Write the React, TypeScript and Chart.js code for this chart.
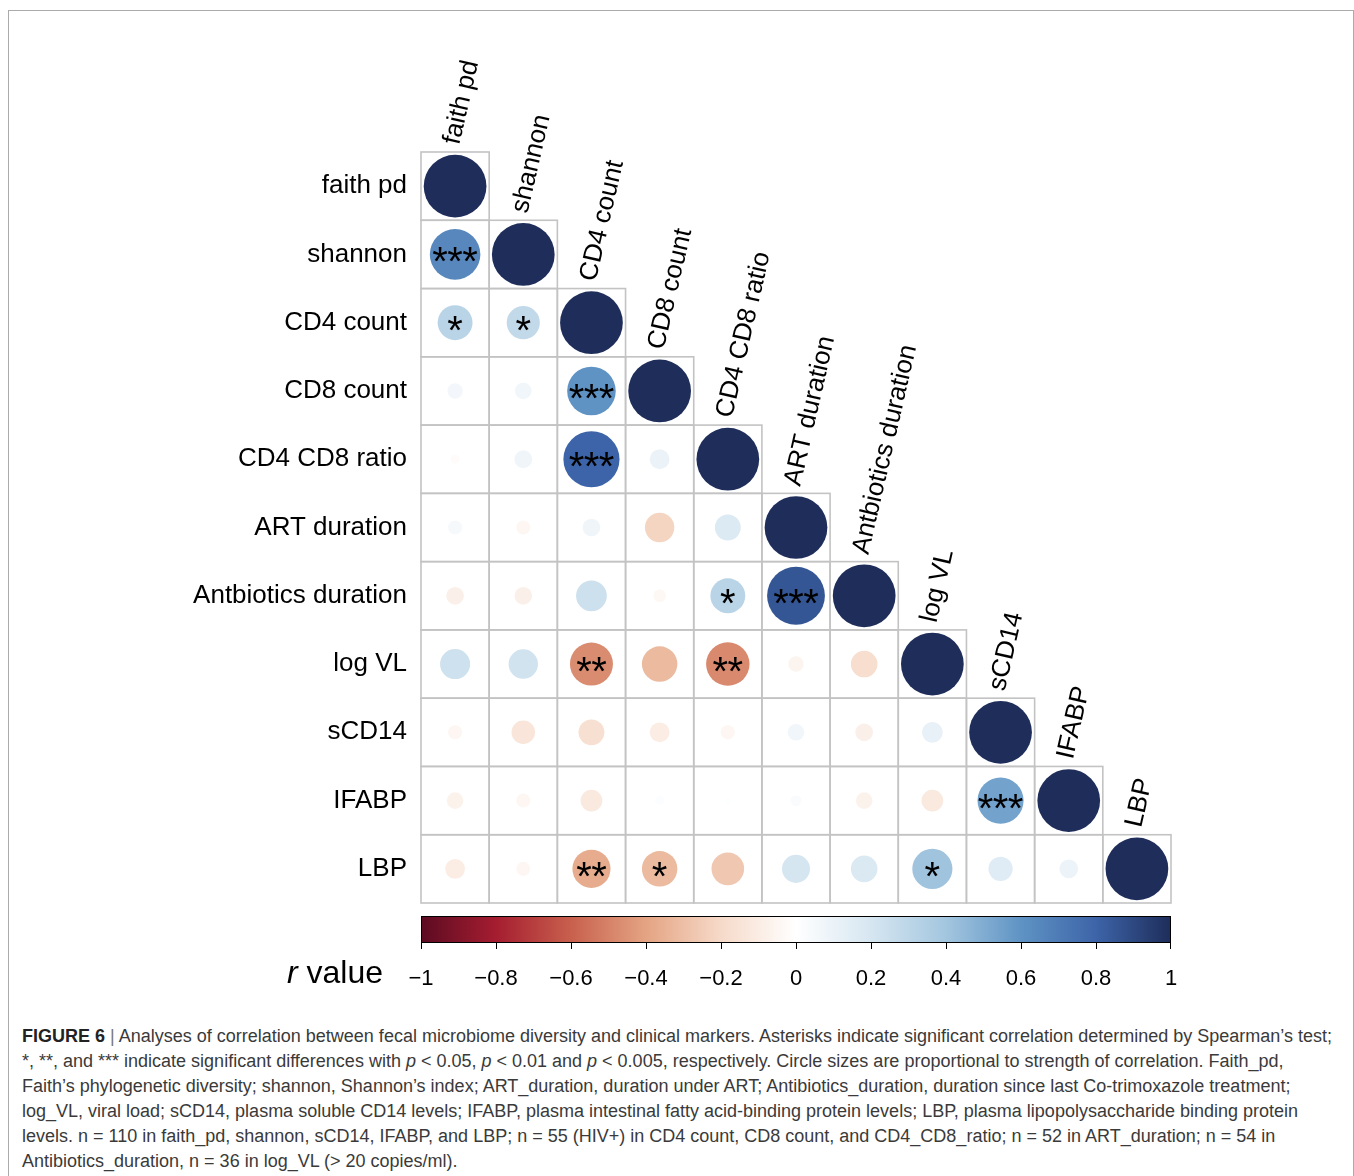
import React, { useEffect, useRef } from "react";
import { Chart, registerables } from "chart.js";

Chart.register(...registerables);

const varLabels = [
  "faith pd",
  "shannon",
  "CD4 count",
  "CD8 count",
  "CD4 CD8 ratio",
  "ART duration",
  "Antbiotics duration",
  "log VL",
  "sCD14",
  "IFABP",
  "LBP",
];

// lower-triangle correlation rows (r values)
const rowFaithPd = [1];
const rowShannon = [0.65, 1];
const rowCD4 = [0.31, 0.28, 1];
const rowCD8 = [0.06, 0.07, 0.6, 1];
const rowRatio = [-0.02, 0.08, 0.8, 0.1, 1];
const rowART = [0.05, -0.05, 0.08, -0.22, 0.17, 1];
const rowAntb = [-0.08, -0.08, 0.24, -0.04, 0.31, 0.85, 1];
const rowLogVL = [0.23, 0.22, -0.47, -0.32, -0.48, -0.06, -0.18, 1];
const rowSCD14 = [-0.05, -0.14, -0.17, -0.1, -0.05, 0.07, -0.08, 0.11, 1];
const rowIFABP = [-0.07, -0.05, -0.12, 0.02, 0.01, 0.03, -0.07, -0.12, 0.54, 1];
const rowLBP = [-0.1, -0.05, -0.37, -0.32, -0.27, 0.2, 0.18, 0.41, 0.15, 0.09, 1];

// significance marks per row
const sigFaithPd = [""];
const sigShannon = ["***", ""];
const sigCD4 = ["*", "*", ""];
const sigCD8 = ["", "", "***", ""];
const sigRatio = ["", "", "***", "", ""];
const sigART = ["", "", "", "", "", ""];
const sigAntb = ["", "", "", "", "*", "***", ""];
const sigLogVL = ["", "", "**", "", "**", "", "", ""];
const sigSCD14 = ["", "", "", "", "", "", "", "", ""];
const sigIFABP = ["", "", "", "", "", "", "", "", "***", ""];
const sigLBP = ["", "", "**", "*", "", "", "", "*", "", "", ""];

const corrRows = [rowFaithPd, rowShannon, rowCD4, rowCD8, rowRatio, rowART, rowAntb, rowLogVL, rowSCD14, rowIFABP, rowLBP];
const sigRows = [sigFaithPd, sigShannon, sigCD4, sigCD8, sigRatio, sigART, sigAntb, sigLogVL, sigSCD14, sigIFABP, sigLBP];

const colorbarTicks = [-1, -0.8, -0.6, -0.4, -0.2, 0, 0.2, 0.4, 0.6, 0.8, 1];
const colorStops = [
  "#5c0b22", "#a51d30", "#c8604d", "#e4a483", "#f6dac9", "#ffffff",
  "#d6e6f1", "#a3c6df", "#5f93c4", "#3d64a8", "#1e2d5a",
];

function hexToRgb(h: string) {
  const n = parseInt(h.slice(1), 16);
  return [(n >> 16) & 255, (n >> 8) & 255, n & 255];
}

function colorFor(v: number) {
  const t = (Math.max(-1, Math.min(1, v)) + 1) / 2 * (colorStops.length - 1);
  const i = Math.min(colorStops.length - 2, Math.floor(t));
  const f = t - i;
  const a = hexToRgb(colorStops[i]);
  const b = hexToRgb(colorStops[i + 1]);
  const c = a.map((x, k) => Math.round(x + (b[k] - x) * f));
  return `rgb(${c[0]},${c[1]},${c[2]})`;
}

function fmtTick(v: number) {
  if (v === 0) return "0";
  const s = Math.abs(v) === 1 ? "1" : Math.abs(v).toFixed(1);
  return v < 0 ? "\u2212" + s : s;
}

const FONT = '"Liberation Sans", Arial, Helvetica, sans-serif';

const corrPlugin = {
  id: "corrDecor",
  beforeDatasetsDraw(chart: any) {
    const { ctx, chartArea } = chart;
    const xs = chart.scales.x;
    const ys = chart.scales.y;
    const n = varLabels.length;
    const cw = (chartArea.right - chartArea.left) / n;
    const ch = (chartArea.bottom - chartArea.top) / n;
    ctx.save();
    ctx.strokeStyle = "#c3c3c3";
    ctx.lineWidth = 1.6;
    for (let i = 0; i < n; i++) {
      for (let j = 0; j <= i; j++) {
        const cx = xs.getPixelForValue(j);
        const cy = ys.getPixelForValue(i);
        ctx.strokeRect(cx - cw / 2, cy - ch / 2, cw, ch);
      }
    }
    ctx.restore();
  },
  afterDatasetsDraw(chart: any) {
    const { ctx, chartArea } = chart;
    const xs = chart.scales.x;
    const ys = chart.scales.y;
    const n = varLabels.length;
    const ch = (chartArea.bottom - chartArea.top) / n;
    ctx.save();
    // asterisks
    ctx.fillStyle = "#000";
    ctx.font = `40px ${FONT}`;
    ctx.textAlign = "center";
    ctx.textBaseline = "alphabetic";
    const step = 15;
    sigRows.forEach((row, i) => {
      row.forEach((s, j) => {
        if (!s) return;
        const cx = xs.getPixelForValue(j);
        const cy = ys.getPixelForValue(i);
        for (let k = 0; k < s.length; k++) {
          ctx.fillText(s[k], cx + (k - (s.length - 1) / 2) * step, cy + 21);
        }
      });
    });
    // row labels
    ctx.font = `26px ${FONT}`;
    ctx.textAlign = "right";
    ctx.textBaseline = "middle";
    varLabels.forEach((lab, i) => {
      ctx.fillText(lab, chartArea.left - 14, ys.getPixelForValue(i));
    });
    // column labels
    ctx.textAlign = "left";
    varLabels.forEach((lab, j) => {
      const x = xs.getPixelForValue(j);
      const top = ys.getPixelForValue(j) - ch / 2;
      ctx.save();
      ctx.translate(x - 3, top - 8);
      ctx.rotate((-77 * Math.PI) / 180);
      ctx.fillText(lab, 0, 0);
      ctx.restore();
    });
    // colorbar
    const L = chartArea.left;
    const R = chartArea.right;
    const T = chartArea.bottom + 13;
    const B = chartArea.bottom + 40;
    const grad = ctx.createLinearGradient(L, 0, R, 0);
    colorStops.forEach((c, k) => grad.addColorStop(k / (colorStops.length - 1), c));
    ctx.fillStyle = grad;
    ctx.fillRect(L, T, R - L, B - T);
    ctx.strokeStyle = "#000";
    ctx.lineWidth = 1;
    ctx.strokeRect(L + 0.5, T + 0.5, R - L - 1, B - T - 1);
    ctx.fillStyle = "#000";
    ctx.font = `22px ${FONT}`;
    ctx.textAlign = "center";
    ctx.textBaseline = "middle";
    colorbarTicks.forEach((t) => {
      const x = L + ((t + 1) / 2) * (R - L);
      const xx = Math.round(x) + 0.5;
      ctx.beginPath();
      ctx.moveTo(Math.min(xx, R - 0.5), B);
      ctx.lineTo(Math.min(xx, R - 0.5), B + 6);
      ctx.stroke();
      ctx.fillText(fmtTick(t), x, B + 36);
    });
    // r value
    ctx.textAlign = "left";
    ctx.textBaseline = "middle";
    ctx.font = `italic 32px ${FONT}`;
    const rW = ctx.measureText("r").width;
    ctx.font = `32px ${FONT}`;
    const vW = ctx.measureText(" value").width;
    const startX = L - 38 - (rW + vW);
    ctx.font = `italic 32px ${FONT}`;
    ctx.fillText("r", startX, B + 31);
    ctx.font = `32px ${FONT}`;
    ctx.fillText(" value", startX + rW, B + 31);
    ctx.restore();
  },
};

export default function App() {
  const ref = useRef<HTMLCanvasElement | null>(null);

  useEffect(() => {
    if (!ref.current) return;
    const points: any[] = [];
    corrRows.forEach((row, i) => {
      row.forEach((v, j) => points.push({ x: j, y: i, v }));
    });
    const radius = (c: any) => {
      const a = c.chart.chartArea;
      if (!a || !c.raw) return 0;
      const cell = (a.right - a.left) / varLabels.length;
      return 0.46 * cell * Math.sqrt(Math.abs(c.raw.v));
    };
    const chart = new Chart(ref.current, {
      type: "scatter",
      data: {
        datasets: [
          {
            data: points,
            pointRadius: radius,
            pointHoverRadius: radius,
            pointBackgroundColor: (c: any) => (c.raw ? colorFor(c.raw.v) : "#fff"),
            pointBorderWidth: 0,
            pointHoverBorderWidth: 0,
            clip: false,
          } as any,
        ],
      },
      options: {
        animation: false,
        responsive: false,
        events: [],
        layout: { padding: { left: 421, right: 183, top: 152, bottom: 112 } },
        scales: {
          x: { type: "linear", min: -0.5, max: 10.5, display: false },
          y: { type: "linear", min: -0.5, max: 10.5, reverse: true, display: false },
        },
        plugins: { legend: { display: false }, tooltip: { enabled: false } },
      },
      plugins: [corrPlugin],
    });
    return () => chart.destroy();
  }, []);

  const captionLine: React.CSSProperties = { whiteSpace: "nowrap", height: 25, lineHeight: "25px" };
  const it: React.CSSProperties = { fontStyle: "italic" };

  return (
    <div style={{ position: "absolute", left: 0, top: 0, width: 1354, height: 1176, overflow: "hidden", background: "#fff" }}>
      <div
        style={{
          position: "absolute",
          left: 8,
          top: 10,
          width: 1346,
          height: 1200,
          border: "1px solid #ababab",
          boxSizing: "border-box",
        }}
      />
      <canvas ref={ref} width={1354} height={1015} style={{ position: "absolute", left: 0, top: 0 }} />
      <div
        style={{
          position: "absolute",
          left: 22,
          top: 1024,
          fontFamily: FONT,
          fontSize: 18,
          color: "#3a3a3a",
        }}
      >
        <div style={captionLine}>
          <b style={{ color: "#222" }}>FIGURE 6</b> <span style={{ color: "#777" }}>|</span> Analyses of correlation between fecal microbiome diversity and clinical markers. Asterisks indicate significant correlation determined by Spearman’s test;
        </div>
        <div style={captionLine}>
          *, **, and *** indicate significant differences with <span style={it}>p</span> &lt; 0.05, <span style={it}>p</span> &lt; 0.01 and <span style={it}>p</span> &lt; 0.005, respectively. Circle sizes are proportional to strength of correlation. Faith_pd,
        </div>
        <div style={captionLine}>
          Faith’s phylogenetic diversity; shannon, Shannon’s index; ART_duration, duration under ART; Antibiotics_duration, duration since last Co-trimoxazole treatment;
        </div>
        <div style={captionLine}>
          log_VL, viral load; sCD14, plasma soluble CD14 levels; IFABP, plasma intestinal fatty acid-binding protein levels; LBP, plasma lipopolysaccharide binding protein
        </div>
        <div style={captionLine}>
          levels. n = 110 in faith_pd, shannon, sCD14, IFABP, and LBP; n = 55 (HIV+) in CD4 count, CD8 count, and CD4_CD8_ratio; n = 52 in ART_duration; n = 54 in
        </div>
        <div style={captionLine}>Antibiotics_duration, n = 36 in log_VL (&gt; 20 copies/ml).</div>
      </div>
    </div>
  );
}
